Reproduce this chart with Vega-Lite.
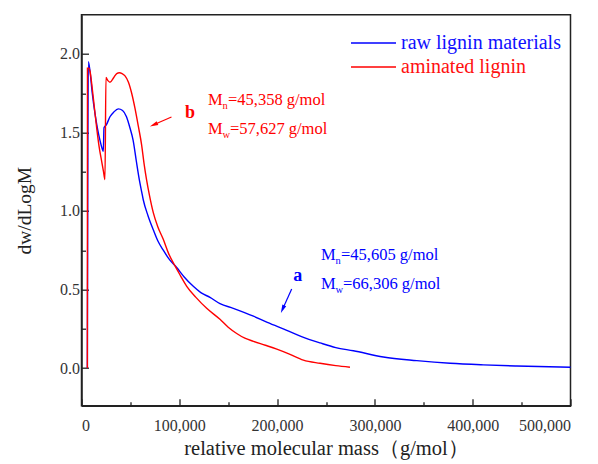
{
  "$schema": "https://vega.github.io/schema/vega-lite/v6.json",
  "width": 489,
  "height": 391,
  "autosize": {"type": "none"},
  "padding": {"left": 81.5, "top": 14.7, "right": 27.5, "bottom": 58.3},
  "background": "white",
  "config": {
    "view": {"stroke": "#222", "strokeWidth": 1.5},
    "axis": {
      "grid": false,
      "domainColor": "#222",
      "domainWidth": 1.5,
      "tickColor": "#222",
      "tickWidth": 1.3,
      "labelFont": "Liberation Serif, Times New Roman, serif",
      "labelFontSize": 16,
      "labelColor": "#333",
      "titleFont": "Liberation Serif, Times New Roman, serif",
      "titleFontWeight": "normal",
      "titleColor": "#222"
    },
    "text": {"font": "Liberation Serif, Times New Roman, serif"}
  },
  "datasets": {
    "curves": [
      {"series": "raw lignin materials", "mass": 6000, "dwdlogm": 0},
      {"series": "raw lignin materials", "mass": 7000, "dwdlogm": 1.95},
      {"series": "raw lignin materials", "mass": 8700, "dwdlogm": 1.89},
      {"series": "raw lignin materials", "mass": 11000, "dwdlogm": 1.75},
      {"series": "raw lignin materials", "mass": 13800, "dwdlogm": 1.62},
      {"series": "raw lignin materials", "mass": 16500, "dwdlogm": 1.52},
      {"series": "raw lignin materials", "mass": 18900, "dwdlogm": 1.45},
      {"series": "raw lignin materials", "mass": 21000, "dwdlogm": 1.4},
      {"series": "raw lignin materials", "mass": 22300, "dwdlogm": 1.38},
      {"series": "raw lignin materials", "mass": 23000, "dwdlogm": 1.53},
      {"series": "raw lignin materials", "mass": 25500, "dwdlogm": 1.55},
      {"series": "raw lignin materials", "mass": 29100, "dwdlogm": 1.6},
      {"series": "raw lignin materials", "mass": 33000, "dwdlogm": 1.63},
      {"series": "raw lignin materials", "mass": 37600, "dwdlogm": 1.65},
      {"series": "raw lignin materials", "mass": 42000, "dwdlogm": 1.64},
      {"series": "raw lignin materials", "mass": 46000, "dwdlogm": 1.6},
      {"series": "raw lignin materials", "mass": 49500, "dwdlogm": 1.53},
      {"series": "raw lignin materials", "mass": 52800, "dwdlogm": 1.45},
      {"series": "raw lignin materials", "mass": 56000, "dwdlogm": 1.32},
      {"series": "raw lignin materials", "mass": 59100, "dwdlogm": 1.2},
      {"series": "raw lignin materials", "mass": 61600, "dwdlogm": 1.12},
      {"series": "raw lignin materials", "mass": 63200, "dwdlogm": 1.07},
      {"series": "raw lignin materials", "mass": 68000, "dwdlogm": 0.97},
      {"series": "raw lignin materials", "mass": 73400, "dwdlogm": 0.88},
      {"series": "raw lignin materials", "mass": 78000, "dwdlogm": 0.81},
      {"series": "raw lignin materials", "mass": 83600, "dwdlogm": 0.75},
      {"series": "raw lignin materials", "mass": 90000, "dwdlogm": 0.69},
      {"series": "raw lignin materials", "mass": 97300, "dwdlogm": 0.64},
      {"series": "raw lignin materials", "mass": 105000, "dwdlogm": 0.58},
      {"series": "raw lignin materials", "mass": 114300, "dwdlogm": 0.52},
      {"series": "raw lignin materials", "mass": 122000, "dwdlogm": 0.48},
      {"series": "raw lignin materials", "mass": 131400, "dwdlogm": 0.45},
      {"series": "raw lignin materials", "mass": 141600, "dwdlogm": 0.41},
      {"series": "raw lignin materials", "mass": 155200, "dwdlogm": 0.38},
      {"series": "raw lignin materials", "mass": 175800, "dwdlogm": 0.33},
      {"series": "raw lignin materials", "mass": 190000, "dwdlogm": 0.29},
      {"series": "raw lignin materials", "mass": 209900, "dwdlogm": 0.24},
      {"series": "raw lignin materials", "mass": 225000, "dwdlogm": 0.2},
      {"series": "raw lignin materials", "mass": 243900, "dwdlogm": 0.16},
      {"series": "raw lignin materials", "mass": 260000, "dwdlogm": 0.13},
      {"series": "raw lignin materials", "mass": 278000, "dwdlogm": 0.11},
      {"series": "raw lignin materials", "mass": 308600, "dwdlogm": 0.07},
      {"series": "raw lignin materials", "mass": 342800, "dwdlogm": 0.047},
      {"series": "raw lignin materials", "mass": 376900, "dwdlogm": 0.03},
      {"series": "raw lignin materials", "mass": 410800, "dwdlogm": 0.02},
      {"series": "raw lignin materials", "mass": 445000, "dwdlogm": 0.013},
      {"series": "raw lignin materials", "mass": 489300, "dwdlogm": 0.006},
      {"series": "raw lignin materials", "mass": 500000, "dwdlogm": 0.005},
      {"series": "aminated lignin", "mass": 6000, "dwdlogm": 0},
      {"series": "aminated lignin", "mass": 6100, "dwdlogm": 1.91},
      {"series": "aminated lignin", "mass": 7700, "dwdlogm": 1.91},
      {"series": "aminated lignin", "mass": 8700, "dwdlogm": 1.89},
      {"series": "aminated lignin", "mass": 11000, "dwdlogm": 1.78},
      {"series": "aminated lignin", "mass": 13500, "dwdlogm": 1.64},
      {"series": "aminated lignin", "mass": 15700, "dwdlogm": 1.52},
      {"series": "aminated lignin", "mass": 18000, "dwdlogm": 1.41},
      {"series": "aminated lignin", "mass": 20800, "dwdlogm": 1.31},
      {"series": "aminated lignin", "mass": 22500, "dwdlogm": 1.25},
      {"series": "aminated lignin", "mass": 24000, "dwdlogm": 1.2},
      {"series": "aminated lignin", "mass": 25000, "dwdlogm": 1.85},
      {"series": "aminated lignin", "mass": 27000, "dwdlogm": 1.83},
      {"series": "aminated lignin", "mass": 29100, "dwdlogm": 1.82},
      {"series": "aminated lignin", "mass": 33000, "dwdlogm": 1.85},
      {"series": "aminated lignin", "mass": 36000, "dwdlogm": 1.875},
      {"series": "aminated lignin", "mass": 38700, "dwdlogm": 1.88},
      {"series": "aminated lignin", "mass": 41500, "dwdlogm": 1.875},
      {"series": "aminated lignin", "mass": 44500, "dwdlogm": 1.86},
      {"series": "aminated lignin", "mass": 48000, "dwdlogm": 1.82},
      {"series": "aminated lignin", "mass": 51300, "dwdlogm": 1.75},
      {"series": "aminated lignin", "mass": 54500, "dwdlogm": 1.66},
      {"series": "aminated lignin", "mass": 58100, "dwdlogm": 1.54},
      {"series": "aminated lignin", "mass": 61500, "dwdlogm": 1.42},
      {"series": "aminated lignin", "mass": 64000, "dwdlogm": 1.3},
      {"series": "aminated lignin", "mass": 66500, "dwdlogm": 1.2},
      {"series": "aminated lignin", "mass": 69500, "dwdlogm": 1.1},
      {"series": "aminated lignin", "mass": 73400, "dwdlogm": 0.99},
      {"series": "aminated lignin", "mass": 78000, "dwdlogm": 0.9},
      {"series": "aminated lignin", "mass": 83600, "dwdlogm": 0.82},
      {"series": "aminated lignin", "mass": 89000, "dwdlogm": 0.73},
      {"series": "aminated lignin", "mass": 95600, "dwdlogm": 0.65},
      {"series": "aminated lignin", "mass": 101000, "dwdlogm": 0.59},
      {"series": "aminated lignin", "mass": 107600, "dwdlogm": 0.52},
      {"series": "aminated lignin", "mass": 117000, "dwdlogm": 0.45},
      {"series": "aminated lignin", "mass": 128000, "dwdlogm": 0.38},
      {"series": "aminated lignin", "mass": 141600, "dwdlogm": 0.31},
      {"series": "aminated lignin", "mass": 150000, "dwdlogm": 0.26},
      {"series": "aminated lignin", "mass": 158700, "dwdlogm": 0.22},
      {"series": "aminated lignin", "mass": 167000, "dwdlogm": 0.19},
      {"series": "aminated lignin", "mass": 175800, "dwdlogm": 0.17},
      {"series": "aminated lignin", "mass": 188000, "dwdlogm": 0.145},
      {"series": "aminated lignin", "mass": 199700, "dwdlogm": 0.12},
      {"series": "aminated lignin", "mass": 212000, "dwdlogm": 0.09},
      {"series": "aminated lignin", "mass": 226900, "dwdlogm": 0.05},
      {"series": "aminated lignin", "mass": 243900, "dwdlogm": 0.03},
      {"series": "aminated lignin", "mass": 260000, "dwdlogm": 0.015},
      {"series": "aminated lignin", "mass": 274500, "dwdlogm": 0.005}
    ],
    "annot": [
      {"series": "aminated lignin", "mass": 129300, "dwdlogm": 1.673, "sub": "n", "rest": "=45,358 g/mol"},
      {"series": "aminated lignin", "mass": 129300, "dwdlogm": 1.492, "sub": "w", "rest": "=57,627 g/mol"},
      {"series": "raw lignin materials", "mass": 244900, "dwdlogm": 0.685, "sub": "n", "rest": "=45,605 g/mol"},
      {"series": "raw lignin materials", "mass": 244900, "dwdlogm": 0.503, "sub": "w", "rest": "=66,306 g/mol"}
    ],
    "letters": [
      {"series": "aminated lignin", "mass": 110900, "dwdlogm": 1.592, "label": "b"},
      {"series": "raw lignin materials", "mass": 221200, "dwdlogm": 0.552, "label": "a"}
    ],
    "arrows": [
      {"series": "aminated lignin", "mass": 92000, "dwdlogm": 1.599, "mass2": 73800, "dwdlogm2": 1.549},
      {"series": "raw lignin materials", "mass": 214900, "dwdlogm": 0.503, "mass2": 205600, "dwdlogm2": 0.374}
    ]
  },
  "layer": [
    {
      "layer": [
        {
          "data": {"name": "curves"},
          "mark": {"type": "line", "strokeWidth": 1.4, "interpolate": "monotone"},
          "encoding": {
            "x": {
              "field": "mass", "type": "quantitative",
              "scale": {"domain": [0, 500000], "nice": false, "zero": false},
              "axis": {
                "values": [0, 100000, 200000, 300000, 400000, 500000],
                "labelExpr": "format(datum.value, ',')",
                "tickSize": -7,
                "labelPadding": 19,
                "title": "relative molecular mass（g/mol）",
                "titleFontSize": 20.5,
                "titlePadding": 5
              }
            },
            "y": {
              "field": "dwdlogm", "type": "quantitative",
              "scale": {"domain": [-0.24, 2.25], "nice": false, "zero": false},
              "axis": {
                "values": [0, 0.5, 1, 1.5, 2],
                "labelExpr": "format(datum.value, '.1f')",
                "tickSize": -7,
                "labelPadding": 9,
                "title": "dw/dLogM",
                "titleFontSize": 19.5,
                "titlePadding": 25
              }
            },
            "color": {
              "field": "series", "type": "nominal",
              "scale": {"domain": ["raw lignin materials", "aminated lignin"], "range": ["#0000ff", "#ff0000"]},
              "legend": {
                "orient": "none",
                "legendX": 268.5,
                "legendY": 17.7,
                "title": null,
                "symbolType": "stroke",
                "symbolSize": 2025,
                "symbolStrokeWidth": 1.5,
                "labelFont": "Liberation Serif, Times New Roman, serif",
                "labelFontSize": 20,
                "labelOffset": 4,
                "padding": 0,
                "clipHeight": 21,
                "rowPadding": 3,
                "encode": {
                  "labels": {"update": {"fill": {"signal": "datum.value == 'raw lignin materials' ? '#1010ff' : '#ff1010'"}}}
                }
              }
            }
          }
        },
        {
          "data": {"name": "annot"},
          "mark": {"type": "text", "align": "left", "baseline": "alphabetic", "fontSize": 16.5},
          "encoding": {
            "x": {"field": "mass", "type": "quantitative"},
            "y": {"field": "dwdlogm", "type": "quantitative"},
            "text": {"value": "M"},
            "color": {"field": "series", "type": "nominal"}
          }
        },
        {
          "data": {"name": "annot"},
          "mark": {"type": "text", "align": "left", "baseline": "alphabetic", "fontSize": 10.5, "dx": 14.5, "dy": 4},
          "encoding": {
            "x": {"field": "mass", "type": "quantitative"},
            "y": {"field": "dwdlogm", "type": "quantitative"},
            "text": {"field": "sub"},
            "color": {"field": "series", "type": "nominal"}
          }
        },
        {
          "data": {"name": "annot"},
          "transform": [{"filter": "datum.sub == 'n'"}],
          "mark": {"type": "text", "align": "left", "baseline": "alphabetic", "fontSize": 16.5, "dx": 20},
          "encoding": {
            "x": {"field": "mass", "type": "quantitative"},
            "y": {"field": "dwdlogm", "type": "quantitative"},
            "text": {"field": "rest"},
            "color": {"field": "series", "type": "nominal"}
          }
        },
        {
          "data": {"name": "annot"},
          "transform": [{"filter": "datum.sub == 'w'"}],
          "mark": {"type": "text", "align": "left", "baseline": "alphabetic", "fontSize": 16.5, "dx": 22},
          "encoding": {
            "x": {"field": "mass", "type": "quantitative"},
            "y": {"field": "dwdlogm", "type": "quantitative"},
            "text": {"field": "rest"},
            "color": {"field": "series", "type": "nominal"}
          }
        },
        {
          "data": {"name": "letters"},
          "mark": {"type": "text", "align": "center", "baseline": "alphabetic", "fontSize": 18, "fontWeight": "bold"},
          "encoding": {
            "x": {"field": "mass", "type": "quantitative"},
            "y": {"field": "dwdlogm", "type": "quantitative"},
            "text": {"field": "label"},
            "color": {"field": "series", "type": "nominal"}
          }
        },
        {
          "data": {"name": "arrows"},
          "mark": {"type": "rule", "strokeWidth": 1.2},
          "encoding": {
            "x": {"field": "mass", "type": "quantitative"},
            "y": {"field": "dwdlogm", "type": "quantitative"},
            "x2": {"field": "mass2"},
            "y2": {"field": "dwdlogm2"},
            "color": {"field": "series", "type": "nominal"}
          }
        },
        {
          "data": {"name": "arrows"},
          "transform": [{"filter": "datum.series == 'aminated lignin'"}],
          "mark": {"type": "point", "filled": true, "opacity": 1, "shape": "M0,-1L0.5,1L-0.5,1Z", "size": 70, "angle": 246.6},
          "encoding": {
            "x": {"field": "mass2", "type": "quantitative"},
            "y": {"field": "dwdlogm2", "type": "quantitative"},
            "color": {"field": "series", "type": "nominal"}
          }
        },
        {
          "data": {"name": "arrows"},
          "transform": [{"filter": "datum.series == 'raw lignin materials'"}],
          "mark": {"type": "point", "filled": true, "opacity": 1, "shape": "M0,-1L0.5,1L-0.5,1Z", "size": 70, "angle": 204},
          "encoding": {
            "x": {"field": "mass2", "type": "quantitative"},
            "y": {"field": "dwdlogm2", "type": "quantitative"},
            "color": {"field": "series", "type": "nominal"}
          }
        }
      ]
    },
    {
      "data": {"name": "curves"},
      "mark": {"type": "point", "opacity": 0},
      "encoding": {
        "x": {
          "field": "mass", "type": "quantitative",
          "axis": {"orient": "bottom", "values": [50000, 150000, 250000, 350000, 450000], "tickSize": -4, "labels": false, "domain": false, "title": null}
        },
        "y": {
          "field": "dwdlogm", "type": "quantitative",
          "axis": {"orient": "left", "values": [0.25, 0.75, 1.25, 1.75], "tickSize": -4, "labels": false, "domain": false, "title": null}
        }
      }
    }
  ],
  "resolve": {"axis": {"x": "independent", "y": "independent"}}
}
